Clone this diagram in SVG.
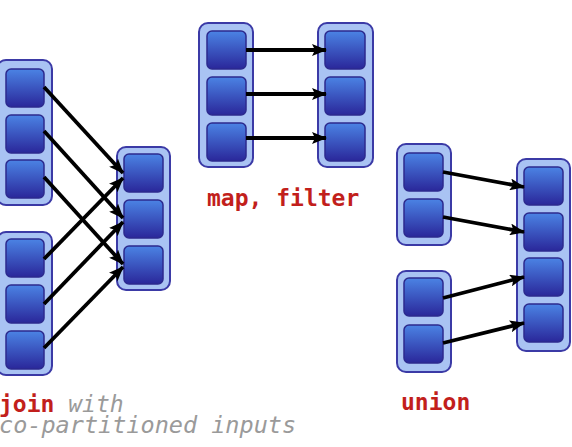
<svg xmlns="http://www.w3.org/2000/svg" width="572" height="447" viewBox="0 0 572 447">
<defs>
<linearGradient id="g" x1="0" y1="0" x2="0" y2="1">
<stop offset="0" stop-color="#4b83e4"/>
<stop offset="1" stop-color="#2a279a"/>
</linearGradient>
<marker id="ah" markerUnits="userSpaceOnUse" markerWidth="15" markerHeight="12" refX="14" refY="6" orient="auto">
<path d="M0,0 L15,6 L0,12 L3,6 Z" fill="#000"/>
</marker>
<style>
.c{fill:#a9c3f3;stroke:#3b3aa6;stroke-width:2}
.b{fill:url(#g);stroke:#2c2a8e;stroke-width:1.5}
.a{stroke:#000;stroke-width:3.8;fill:none;marker-end:url(#ah)}
.t{font-family:"DejaVu Sans Mono","Liberation Mono",monospace;font-size:23px}
.r{fill:#c21f1c;font-weight:bold}
.g{fill:#9a9a9a;font-style:italic}
</style>
</defs>
<g id="join-left-top">
<rect class="c" x="-3" y="60" width="55" height="145" rx="9"/>
<rect class="b" x="6" y="69" width="38" height="38" rx="5"/>
<rect class="b" x="6" y="115" width="38" height="38" rx="5"/>
<rect class="b" x="6" y="160" width="38" height="38" rx="5"/>
</g>
<g id="join-left-bottom">
<rect class="c" x="-3" y="232" width="55" height="143" rx="9"/>
<rect class="b" x="6" y="239" width="38" height="38" rx="5"/>
<rect class="b" x="6" y="285" width="38" height="38" rx="5"/>
<rect class="b" x="6" y="331" width="38" height="38" rx="5"/>
</g>
<g id="join-right">
<rect class="c" x="117" y="147" width="53" height="143" rx="9"/>
<rect class="b" x="124" y="154" width="39" height="38" rx="5"/>
<rect class="b" x="124" y="200" width="39" height="38" rx="5"/>
<rect class="b" x="124" y="246" width="39" height="38" rx="5"/>
</g>
<g id="map-left">
<rect class="c" x="199" y="23" width="54" height="144" rx="9"/>
<rect class="b" x="207" y="31" width="39" height="38" rx="5"/>
<rect class="b" x="207" y="77" width="39" height="38" rx="5"/>
<rect class="b" x="207" y="123" width="39" height="38" rx="5"/>
</g>
<g id="map-right">
<rect class="c" x="318" y="23" width="55" height="144" rx="9"/>
<rect class="b" x="325" y="31" width="40" height="38" rx="5"/>
<rect class="b" x="325" y="77" width="40" height="38" rx="5"/>
<rect class="b" x="325" y="123" width="40" height="38" rx="5"/>
</g>
<g id="union-left-top">
<rect class="c" x="397" y="144" width="54" height="101" rx="9"/>
<rect class="b" x="404" y="153" width="39" height="38" rx="5"/>
<rect class="b" x="404" y="199" width="39" height="38" rx="5"/>
</g>
<g id="union-left-bottom">
<rect class="c" x="397" y="271" width="54" height="101" rx="9"/>
<rect class="b" x="404" y="278" width="39" height="38" rx="5"/>
<rect class="b" x="404" y="325" width="39" height="38" rx="5"/>
</g>
<g id="union-right">
<rect class="c" x="517" y="159" width="53" height="192" rx="9"/>
<rect class="b" x="524" y="167" width="39" height="38" rx="5"/>
<rect class="b" x="524" y="213" width="39" height="38" rx="5"/>
<rect class="b" x="524" y="258" width="39" height="38" rx="5"/>
<rect class="b" x="524" y="304" width="39" height="38" rx="5"/>
</g>
<g id="connectors">
<line class="a" x1="44" y1="87" x2="123" y2="173"/>
<line class="a" x1="44" y1="131" x2="123" y2="218"/>
<line class="a" x1="44" y1="177" x2="123" y2="264"/>
<line class="a" x1="44" y1="259" x2="123" y2="178"/>
<line class="a" x1="44" y1="304" x2="123" y2="222"/>
<line class="a" x1="44" y1="348" x2="123" y2="267"/>
<line class="a" x1="246" y1="50" x2="326" y2="50"/>
<line class="a" x1="246" y1="94" x2="326" y2="94"/>
<line class="a" x1="246" y1="138" x2="326" y2="138"/>
<line class="a" x1="443" y1="172" x2="524" y2="187"/>
<line class="a" x1="443" y1="217" x2="524" y2="232"/>
<line class="a" x1="443" y1="298" x2="524" y2="277"/>
<line class="a" x1="443" y1="343" x2="524" y2="323"/>
</g>
<g id="labels">
<text class="t r" x="207" y="206">map, filter</text>
<text class="t r" x="401" y="410">union</text>
<text class="t" x="-1" y="412"><tspan class="r">join</tspan> <tspan class="g">with</tspan><tspan class="g" x="-1" dy="21" style="font-size:23.5px">co-partitioned inputs</tspan></text>
</g>
</svg>
